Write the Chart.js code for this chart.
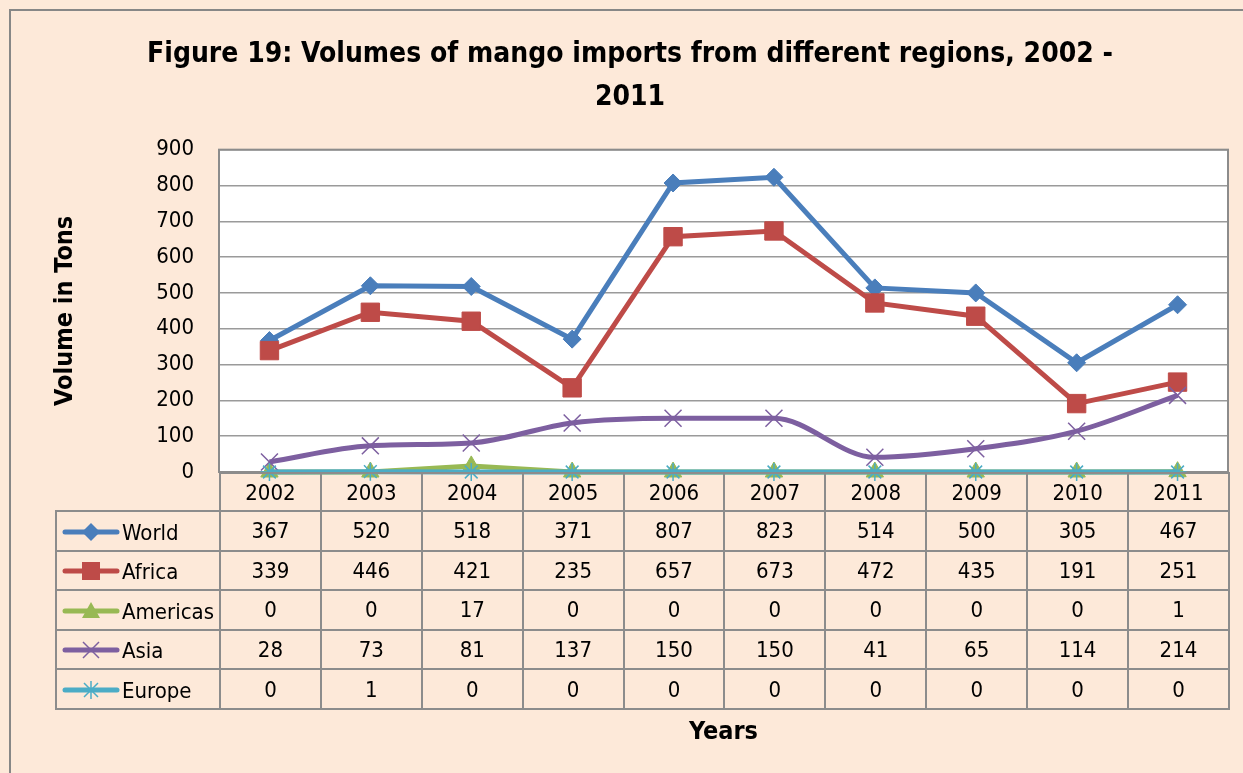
<!DOCTYPE html>
<html>
<head>
<meta charset="utf-8">
<script src="https://cdn.jsdelivr.net/npm/chart.js@4"></script>
<style>
  body { margin: 0; overflow: hidden; background: #fde9d9; }
  #wrap {
    position: relative; width: 1243px; height: 773px; overflow: hidden;
    background: #fde9d9;
    font-family: 'Liberation Sans Narrow', 'Arial Narrow', 'DejaVu Sans Condensed', sans-serif;
  }
  #frame { position: absolute; left: 9px; top: 9px; width: 1400px; height: 900px; border: 2px solid #878787; }
  canvas { position: absolute; left: 0; top: 0; }
  #tbl { position: absolute; border-collapse: collapse; table-layout: fixed; font-size: 22px; color: #000; }
  #tbl td { border: 2px solid #8c8c8c; text-align: center; padding: 0; white-space: nowrap; overflow: hidden; }
  #tbl td.lg { text-align: left; padding-left: 4px; }
  #tbl td.lg svg { vertical-align: middle; margin-right: 1px; }
  #tbl td.lg span { vertical-align: middle; }
  #tbl td.blank { border-top: none; border-left: none; }
  #years { position: absolute; font-weight: bold; font-size: 25px; color: #000; text-align: center; }
</style>
</head>
<body>
<div id="wrap">
  <div id="frame"></div>
  <canvas id="myChart" width="1243" height="773"></canvas>
  <table id="tbl"></table>
  <div id="years">Years</div>
</div>
<script>
const years = ["2002", "2003", "2004", "2005", "2006", "2007", "2008", "2009", "2010", "2011"];
const world = [367, 520, 518, 371, 807, 823, 514, 500, 305, 467];
const africa = [339, 446, 421, 235, 657, 673, 472, 435, 191, 251];
const americas = [0, 0, 17, 0, 0, 0, 0, 0, 0, 1];
const asia = [28, 73, 81, 137, 150, 150, 41, 65, 114, 214];
const europe = [0, 1, 0, 0, 0, 0, 0, 0, 0, 0];

const FONT = "'Liberation Sans Narrow', 'Arial Narrow', 'DejaVu Sans Condensed', sans-serif";

const series = [
  { label: "World", data: world, color: "#4a7ebb", style: "rectRot", r: 9, bw: 1, smooth: false },
  { label: "Africa", data: africa, color: "#be4b48", style: "rect", r: 13, bw: 1, smooth: false },
  { label: "Americas", data: americas, color: "#98b954", style: "triangle", r: 10, bw: 1, smooth: false },
  { label: "Asia", data: asia, color: "#7d5fa0", style: "crossRot", r: 12, bw: 1.5, smooth: true },
  { label: "Europe", data: europe, color: "#4bacc6", style: "star", r: 9, bw: 1.5, smooth: false },
];

// small legend keys for the data table
const keys = {
  rectRot: (c) => `<polygon points="30,1 39,10 30,19 21,10" fill="${c}"/>`,
  rect: (c) => `<rect x="21" y="1" width="18" height="18" fill="${c}"/>`,
  triangle: (c) => `<polygon points="30,1 39,17 21,17" fill="${c}"/>`,
  crossRot: (c) => `<path d="M22 2 L38 18 M22 18 L38 2" stroke="${c}" stroke-width="1.5"/>`,
  star: (c) => `<path d="M30 1 L30 19 M23 3 L37 17 M23 17 L37 3" stroke="${c}" stroke-width="1.5"/>`,
};

const plotBox = {
  id: "plotBox",
  beforeDraw(chart) {
    const a = chart.chartArea;
    const ctx = chart.ctx;
    ctx.save();
    ctx.fillStyle = "#ffffff";
    ctx.fillRect(a.left, a.top, a.right - a.left, a.bottom - a.top);
    ctx.restore();
  },
  beforeDatasetsDraw(chart) {
    const a = chart.chartArea;
    const ctx = chart.ctx;
    ctx.save();
    ctx.strokeStyle = "#8c8c8c";
    ctx.lineWidth = 2;
    ctx.strokeRect(a.left, a.top, a.right - a.left, a.bottom - a.top);
    ctx.restore();
  },
};

const chart = new Chart(document.getElementById("myChart"), {
  type: "line",
  data: {
    labels: years,
    datasets: series.map((s, i) => ({
      label: s.label,
      data: s.data,
      borderColor: s.color,
      backgroundColor: s.color,
      pointBackgroundColor: s.color,
      pointBorderColor: s.color,
      pointStyle: s.style,
      pointRadius: s.r,
      pointBorderWidth: s.bw,
      borderWidth: 5,
      tension: s.smooth ? 0.4 : 0,
      cubicInterpolationMode: s.smooth ? "monotone" : "default",
      clip: false,
      order: series.length - i,
    })),
  },
  options: {
    responsive: false,
    animation: false,
    devicePixelRatio: 1,
    layout: { padding: { left: 32, right: 15, top: 0, bottom: 301 } },
    plugins: {
      legend: { display: false },
      tooltip: { enabled: false },
      title: {
        display: true,
        text: ["Figure 19: Volumes of mango imports from different regions, 2002 -", "2011"],
        color: "#000",
        font: { family: FONT, size: 28, weight: "bold", lineHeight: 1.53 },
        padding: { top: 33, bottom: 31 },
      },
    },
    scales: {
      x: {
        offset: true,
        grid: { display: false, drawTicks: false },
        border: { display: false },
        ticks: { display: false },
        afterFit: (s) => { s.height = 0; },
      },
      y: {
        min: 0,
        max: 900,
        ticks: { stepSize: 100, color: "#000", padding: 25, font: { family: FONT, size: 22 } },
        grid: { color: "#9a9a9a", lineWidth: 1.5, drawTicks: false },
        border: { color: "#8c8c8c", width: 2 },
        title: {
          display: true,
          text: "Volume in Tons",
          color: "#000",
          font: { family: FONT, size: 25, weight: "bold" },
          padding: { top: 18 },
        },
        afterFit: (s) => { s.width = 187; },
      },
    },
  },
  plugins: [plotBox],
});

// data table under the plot, lined up with the category bands
const a = chart.chartArea;
const colW = (a.right - a.left) / years.length;
const legW = 164;
const tbl = document.getElementById("tbl");
let html = `<colgroup><col style="width:${legW}px">` + years.map(() => `<col style="width:${colW}px">`).join("") + `</colgroup>`;
html += `<tr style="height:38px"><td class="blank"></td>` + years.map((y) => `<td>${y}</td>`).join("") + `</tr>`;
series.forEach((s) => {
  html += `<tr style="height:39.6px"><td class="lg"><svg width="60" height="20" viewBox="0 0 60 20">` +
    `<line x1="4" y1="10" x2="56" y2="10" stroke="${s.color}" stroke-width="5" stroke-linecap="round"/>` +
    keys[s.style](s.color) + `</svg><span>${s.label}</span></td>` +
    s.data.map((v) => `<td>${v}</td>`).join("") + `</tr>`;
});
tbl.innerHTML = html;
tbl.style.left = (a.left - legW) + "px";
tbl.style.top = a.bottom + "px";
tbl.style.width = (legW + colW * years.length) + "px";

const yl = document.getElementById("years");
yl.style.left = a.left + "px";
yl.style.width = (a.right - a.left) + "px";
yl.style.top = "716px";
</script>
</body>
</html>
